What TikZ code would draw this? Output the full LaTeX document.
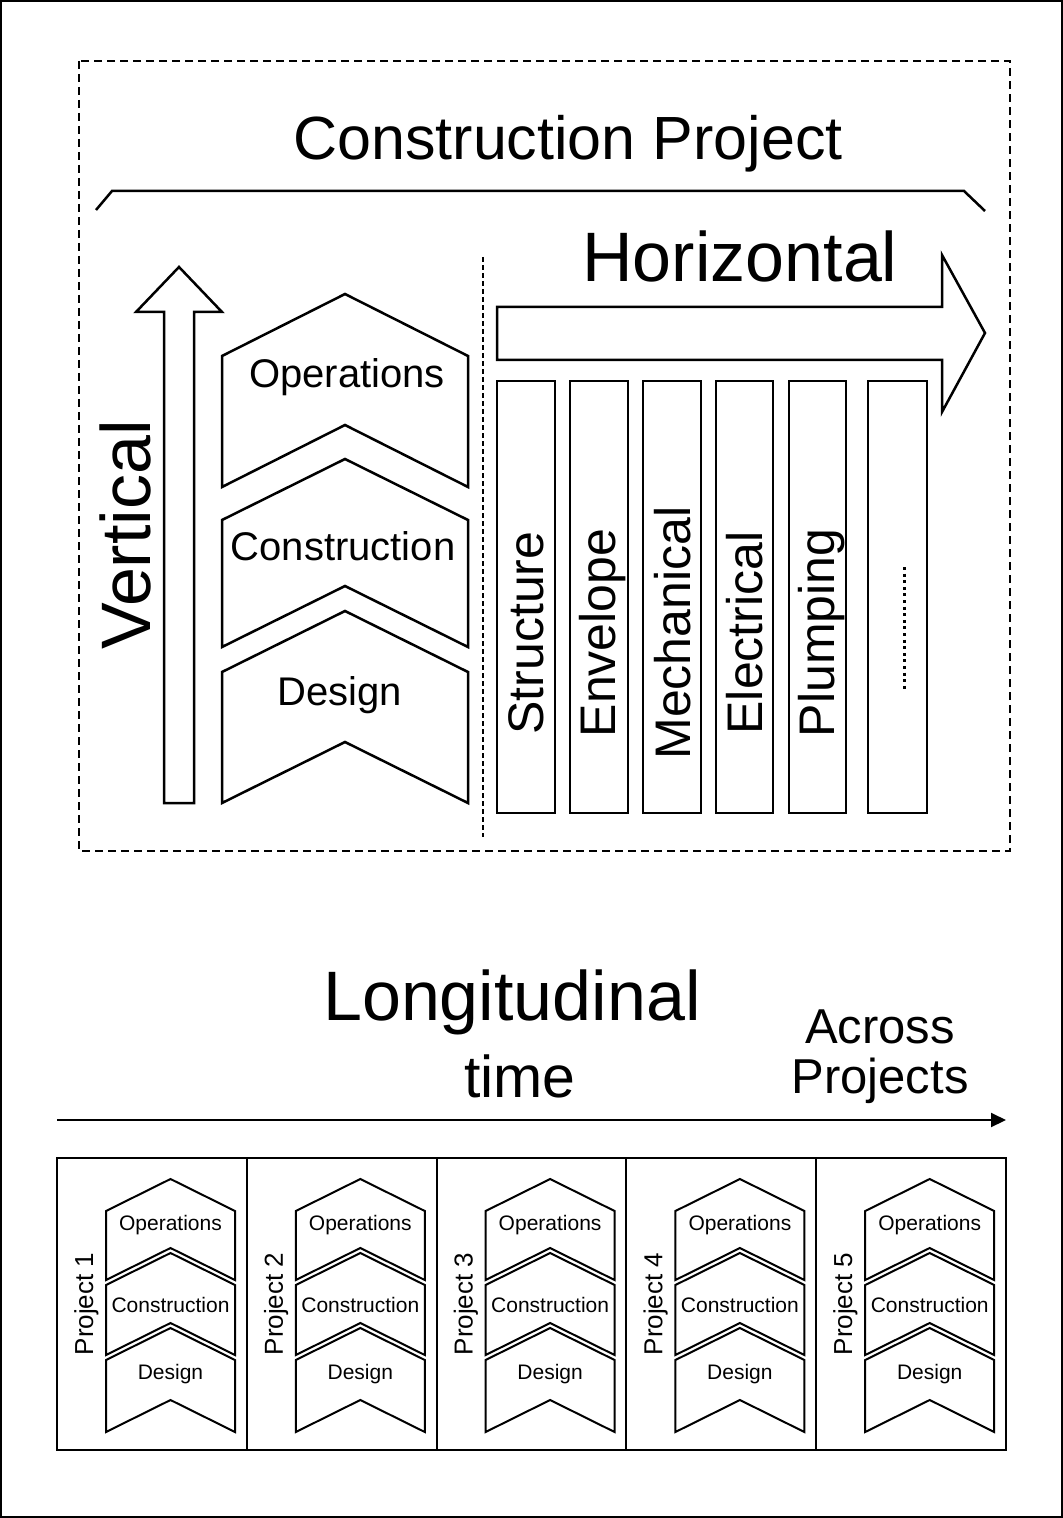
\documentclass[tikz,border=0pt]{standalone}
\usepackage{fontspec}
\setmainfont{Liberation Sans}
\usetikzlibrary{arrows.meta}

% chevron: [style]{left x}{width}{tip y}{bottom y}{point depth}
\newcommand{\chevshape}[6][]{%
  \draw[#1] ({#2},{#4+#6}) -- ({#2+#3/2},{#4}) -- ({#2+#3},{#4+#6}) -- ({#2+#3},{#5})
    -- ({#2+#3/2},{#5-#6}) -- ({#2},{#5}) -- cycle;}

\begin{document}
\begin{tikzpicture}[x=0.5pt, y=-0.5pt,
  txt/.style={anchor=base, inner sep=0pt},
  title/.style={txt, font=\fontsize{30.5}{36}\selectfont},
  axis/.style={txt, font=\fontsize{35}{42}\selectfont},
  phase/.style={txt, font=\fontsize{20}{24}\selectfont},
  trade/.style={txt, rotate=90, font=\fontsize{25}{30}\selectfont},
  tiny/.style={txt, font=\fontsize{10.5}{12}\selectfont},
  proj/.style={txt, rotate=90, font=\fontsize{13}{15}\selectfont},
  outl/.style={line width=1.25pt, line join=miter},
  small/.style={line width=1pt, line join=miter},
  bar/.style={draw, line width=1.25pt},
  arr/.style={-{Triangle[length=7.5pt, width=7pt]}, line width=1pt}
]
\useasboundingbox (0,0) rectangle (1063,1518);
\draw[line width=1.2pt] (1.2,1.2) rectangle (1061.8,1516.8);

% construction project frame
\draw[line width=1pt, dash pattern=on 4pt off 2.5pt] (79,61) rectangle (1010,851);
\node[title] (cp) at (568,160) {Construction Project};
\draw[outl] (96,210) -- (112,191) -- (964,191) -- (985,211);

% vertical
\draw[outl] (164,803) -- (164,312) -- (136,312) -- (179,267) -- (222,312) -- (194,312) -- (194,803) -- cycle;
\node[axis, rotate=90] (vert) at (150,535) {Vertical};

\chevshape[outl]{222}{246}{294}{487}{62}
\chevshape[outl]{222}{246}{459}{647}{61}
\chevshape[outl]{222}{246}{611}{803}{61}
\node[phase] (ops) at (347,388) {Operations};
\node[phase] (con) at (343,560) {Construction};
\node[phase] (des) at (340,705) {Design};

\draw[line width=0.6pt, dash pattern=on 2.5pt off 1.5pt] (483,257) -- (483,837);

% horizontal
\draw[outl] (497,307) -- (942,307) -- (942,255) -- (985,333) -- (942,412) -- (942,360) -- (497,360) -- cycle;
\node[axis] (horiz) at (740,282) {Horizontal};

\draw[bar] (497,381) rectangle (555,813);
\draw[bar] (570,381) rectangle (628,813);
\draw[bar] (643,381) rectangle (701,813);
\draw[bar] (716,381) rectangle (773,813);
\draw[bar] (789,381) rectangle (846,813);
\draw[bar] (868,381) rectangle (927,813);
\node[trade] (struct) at (543,633) {Structure};
\node[trade] (envel) at (615,633) {Envelope};
\node[trade] (mech) at (690,633) {Mechanical};
\node[trade] (elec) at (762,633) {Electrical};
\node[trade] (plump) at (834,633) {Plumping};
\draw[line width=1.5pt, dash pattern=on 1.5pt off 1.8pt] (904,567) -- (904,692);

% longitudinal
\node[axis] (longi) at (512,1020) {Longitudinal};
\node[txt, font=\fontsize{29.5}{35}\selectfont] (time) at (520,1097) {time};
\node[txt, align=center, font=\fontsize{24.5}{25}\selectfont] (across) at (880,1093) {Across\\Projects};
\coordinate (tstart) at (57,1120);
\coordinate (tend) at (1006,1120);
\draw[arr] (tstart) -- (tend);

\foreach \i in {1,...,5} {
  \pgfmathsetmacro\bx{57+189.8*(\i-1)}
  \draw[line width=1pt] (\bx,1158) rectangle ++(189.8,292);
  \chevshape[small]{\bx+49}{129}{1179}{1280}{32}
  \chevshape[small]{\bx+49}{129}{1253}{1355}{32}
  \chevshape[small]{\bx+49}{129}{1328}{1432}{32}
  \node[tiny] (ops\i) at (\bx+113.5,1230) {Operations};
  \node[tiny] (con\i) at (\bx+113.5,1312) {Construction};
  \node[tiny] (des\i) at (\bx+113.5,1379) {Design};
  \node[proj] (p\i) at (\bx+36,1304) {Project \i};
}
\end{tikzpicture}
\end{document}
